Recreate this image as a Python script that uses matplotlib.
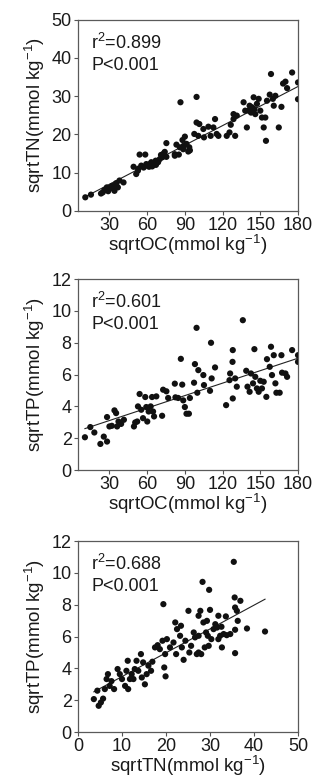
import matplotlib

matplotlib.use("Agg")
import matplotlib.pyplot as plt
import numpy as np

plt.rcParams["font.family"] = ["Liberation Sans", "DejaVu Sans"]
plt.rcParams["mathtext.default"] = "regular"

# panel 1: sqrtOC vs sqrtTN
oc_a = [10.8, 15.3, 23.3, 24.7, 26, 27.9, 29, 30, 32, 33.2, 34, 35.3, 36, 36.7, 38, 41.2,
        49.2, 51.3, 52.7, 53, 54, 55.3, 57.2, 58.5, 59.3, 60, 61.5, 62, 63.3, 64, 65.2, 66.8,
        67, 68.7, 70, 71, 72.1, 73.2, 74, 75.3, 75.3, 82, 82, 83.3, 85.2, 86, 86.5, 88.1,
        88.7, 89, 90, 91.3, 92.7, 93.5, 94, 97.5, 99.3, 99.3, 100.7, 101.5, 104.7, 105.2,
        108.7, 110.5, 112.7, 114, 115.3, 116.7, 123.3, 125.5, 126.5, 128.7, 128.7, 130, 131.3,
        136.7, 138, 139.3, 140.7, 141.5, 142.6, 143.3, 144.7, 145.3, 146, 147.3, 148.7, 150,
        151.3, 152.7, 154, 154.5, 155.3, 157.5, 158.5, 160, 160.7, 162, 164.7, 166.8, 168.1,
        170, 171.3, 175.3, 180, 180]
tn_a = [3.5, 4.2, 4.5, 4.8, 5.4, 6.1, 5.1, 5.7, 6.5, 6.1, 5.2, 7.2, 6.3, 6.1, 7.9, 7.4,
        11.5, 9.6, 10.5, 11.0, 14.7, 11.8, 11.3, 14.7, 12.2, 11.8, 11.5, 12.2, 12.7, 11.6, 12.2, 13.1,
        12.0, 12.7, 13.5, 14.6, 14.0, 15.0, 15.4, 14.1, 17.7, 14.4, 14.8, 17.3, 14.7, 16.6, 28.4, 18.5,
        16.1, 17.0, 19.4, 17.5, 15.5, 16.6, 15.8, 20.1, 23.1, 29.8, 19.6, 22.7, 21.4, 19.2,
        22.0, 19.6, 21.8, 24.0, 20.1, 19.6, 19.6, 20.5, 22.5, 25.3, 24.0, 19.6, 24.9,
        28.4, 26.2, 21.8, 26.2, 27.5, 25.7, 27.1, 29.7, 26.6, 25.3, 28.0, 29.3, 26.2,
        24.4, 21.8, 24.4, 18.3, 28.8, 30.4, 35.8, 29.3, 27.5, 30.1, 21.8, 27.2, 33.3,
        33.8, 32.1, 36.2, 33.6, 29.2]

# panel 2: sqrtOC vs sqrtTP
oc_b = [10.5, 14.8, 18.0, 22.8, 25.5, 28.1, 28.1, 30.0, 31.9, 34.0, 35.3, 36.1, 37.2, 39.3, 41.5,
        49.5, 50.5, 52.1, 52.7, 54.0, 55.3, 56.7, 58.5, 59.3, 60.1, 61.2, 62.8, 63.9, 64.7, 65.5,
        67.3, 71.9, 72.7, 75.3, 76.7, 82.0, 82.5, 84.7, 86.8, 87.9, 88.7, 90.0, 91.3, 93.2, 94.0,
        97.3, 98, 99.3, 99.9, 100.7, 104.7, 105.2, 110, 110.8, 111.3, 114, 122.8, 125.5, 126,
        127.9, 128.1, 128.1, 130, 131.3, 136.1, 138.8, 139.8, 141.5, 142.6, 144.2, 145.3, 146,
        147.3, 148.7, 150, 151.3, 152.7, 154.8, 155.3, 157.5, 158.5, 159.3, 160.7, 162, 162.8,
        165.4, 166.8, 167.3, 170, 171.3, 175.3, 180, 180]
tp_b = [2.06, 2.7, 2.36, 1.64, 2.1, 1.79, 3.33, 2.74, 2.78, 3.75, 3.58, 2.74, 3.05, 2.9, 3.16,
        2.74, 2.99, 3.05, 4.0, 4.78, 3.79, 3.26, 4.59, 3.96, 3.05, 3.68, 4.0, 4.59, 3.68, 3.37,
        4.63, 3.41, 5.05, 4.95, 4.53, 5.43, 4.57, 4.53, 6.99, 5.37, 4.38, 3.96, 3.54, 3.54, 4.53,
        5.49, 6.66, 8.94, 4.86, 6.28, 5.97, 5.34, 4.98, 8.0, 5.76, 6.45, 4.08, 5.65, 6.07,
        6.8, 7.54, 4.5, 5.76, 5.24, 9.42, 6.24, 5.24, 4.92, 6.07, 5.45, 7.6, 5.86,
        5.13, 4.92, 5.61, 5.13, 5.55, 4.6, 6.97, 6.49, 7.75, 5.97, 7.22, 5.45, 4.86,
        4.86, 7.22, 6.12, 6.07, 5.86, 7.54, 7.22, 6.8]

# panel 3: sqrtTN vs sqrtTP
tn_c = [3.6, 4.4, 4.7, 5.2, 5.7, 6.1, 6.5, 6.8, 7.2, 7.6, 8.2, 9.0, 9.5, 10.0, 10.7, 11.0, 11.3,
        11.4, 11.8, 12.2, 12.6, 12.9, 13.3, 13.7, 14.3, 14.5, 14.8, 15.2, 15.6, 16.0, 16.6, 16.9,
        17.5, 18.1, 18.6, 19.2, 19.4, 19.6, 19.8, 19.9, 20.2, 20.9, 21.7, 22.1, 22.3, 22.5, 23.2,
        23.4, 23.6, 24.0, 24.4, 25.1, 25.3, 25.7, 26.3, 26.6, 27.0, 27.4, 27.4, 27.4, 27.8, 28.0,
        28.3, 28.5, 28.8, 29.1, 29.3, 29.5, 29.7, 29.8, 30.0, 30.3, 30.8, 31.2, 31.6, 31.9, 31.9,
        32.3, 32.6, 32.7, 33.1, 33.6, 33.8, 34.6, 35.4, 35.6, 35.7, 35.7, 35.7, 36.1, 36.3, 36.9,
        38.4, 42.5]
tp_c = [2.07, 2.6, 1.65, 1.86, 2.1, 2.7, 3.33, 3.64, 2.9, 3.2, 2.7, 3.96, 3.64, 3.33, 2.9, 3.85, 4.48,
        2.7, 3.33, 3.64, 3.33, 3.96, 4.48, 3.85, 4.9, 3.43, 4.38, 3.0, 3.64, 4.17, 3.85, 4.42,
        5.32, 5.46, 5.21, 5.74, 8.04, 4.06, 4.9, 3.5, 5.84, 5.32, 5.63, 6.89, 4.9, 6.47, 6.05,
        6.68, 5.32, 4.54, 5.74, 7.62, 5.0, 5.42, 6.26, 5.95, 4.9, 5.0, 7.31, 6.05, 7.62, 4.9,
        9.44, 6.89, 5.32, 6.26, 6.99, 6.05, 5.42, 8.94, 7.68, 5.84, 6.47, 6.78, 6.57, 7.31, 5.84,
        6.05, 6.62, 5.32, 6.16, 7.27, 6.09, 6.16, 10.7, 8.46, 7.83, 6.43, 4.96, 7.62, 6.99, 8.25,
        6.51, 6.32]

panels = [
    (oc_a, tn_a, "r$^{2}$=0.899", "sqrtOC(mmol kg$^{-1}$)", "sqrtTN(mmol kg$^{-1}$)",
     (5, 180), [30, 60, 90, 120, 150, 180], (0, 50), [0, 10, 20, 30, 40, 50]),
    (oc_b, tp_b, "r$^{2}$=0.601", "sqrtOC(mmol kg$^{-1}$)", "sqrtTP(mmol kg$^{-1}$)",
     (5, 180), [30, 60, 90, 120, 150, 180], (0, 12), [0, 2, 4, 6, 8, 10, 12]),
    (tn_c, tp_c, "r$^{2}$=0.688", "sqrtTN(mmol kg$^{-1}$)", "sqrtTP(mmol kg$^{-1}$)",
     (0, 50), [0, 10, 20, 30, 40, 50], (0, 12), [0, 2, 4, 6, 8, 10, 12]),
]

fig = plt.figure(figsize=(3.25, 7.8), dpi=100)
bottoms = [0.7299, 0.3974, 0.0615]
for (xs, ys, r2, xlab, ylab, xlim, xt, ylim, yt), b in zip(panels, bottoms):
    ax = fig.add_axes([0.24, b, 0.677, 0.2447])
    xs = np.array(xs)
    ys = np.array(ys)
    ax.scatter(xs, ys, s=20, color="#111111", edgecolors="none", zorder=3)
    k, c = np.polyfit(xs, ys, 1)
    lx = np.array([xs.min(), xs.max()])
    ax.plot(lx, k * lx + c, color="#222222", lw=0.8, zorder=2)
    ax.set_xlim(*xlim)
    ax.set_ylim(*ylim)
    ax.set_xticks(xt)
    ax.set_yticks(yt)
    ax.tick_params(direction="out", length=3, width=0.8, color="#555555",
                   labelsize=13, pad=1.5, labelcolor="#1a1a1a")
    for sp in ax.spines.values():
        sp.set_color("#5a5a5a")
        sp.set_linewidth(0.9)
    ax.set_xlabel(xlab, fontsize=13.5, labelpad=-1, color="#1a1a1a")
    ax.set_ylabel(ylab, fontsize=13.5, labelpad=3, color="#1a1a1a")
    ax.text(0.06, 0.88, r2, transform=ax.transAxes, fontsize=13, va="center", ha="left", color="#1a1a1a")
    ax.text(0.06, 0.76, "P<0.001", transform=ax.transAxes, fontsize=13, va="center", ha="left", color="#1a1a1a")

fig.savefig("out.png", dpi=100, facecolor="white")
